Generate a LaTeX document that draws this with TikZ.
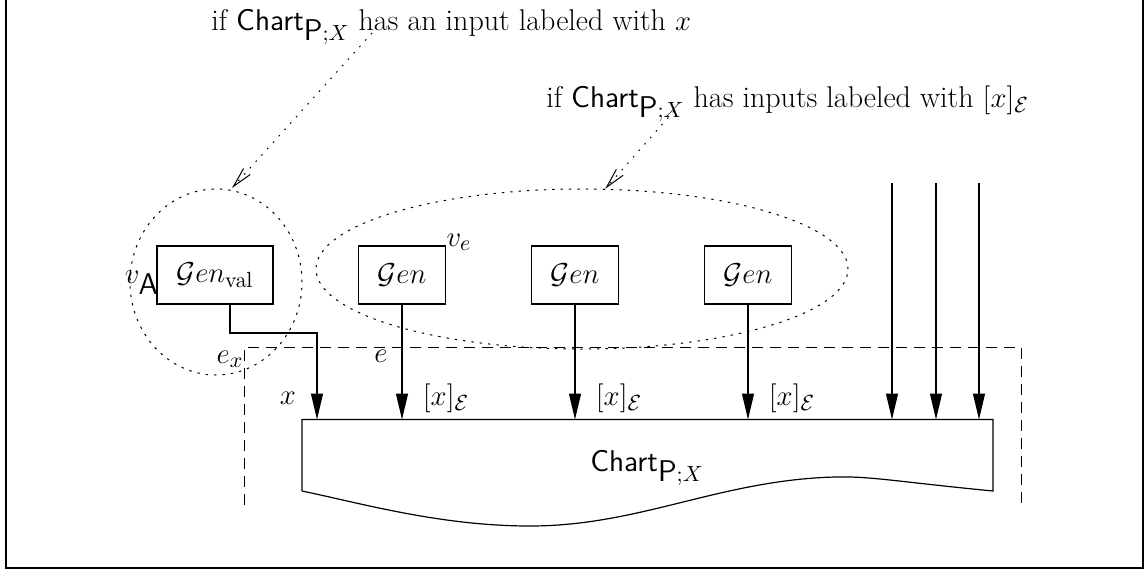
\documentclass[tikz,border=0pt]{standalone}
\usetikzlibrary{arrows.meta,shapes.geometric}
\begin{document}
\begin{tikzpicture}[x=0.5pt,y=-0.5pt,
  every node/.style={font=\fontsize{15}{18}\selectfont},
  genbox/.style={draw,line width=0.6pt,minimum width=43.5pt,minimum height=29pt,inner sep=0pt},
  dotellipse/.style={ellipse,draw,line width=0.5pt,dash pattern=on 1.2pt off 3pt,inner sep=0pt},
  arr/.style={line width=0.6pt,-{Triangle[length=13pt,width=6pt]}},
  hint/.style={line width=0.5pt,dash pattern=on 0.8pt off 3.5pt,-{Straight Barb[length=10pt,width=4.5pt]}},
  bound/.style={line width=0.5pt,dash pattern=on 5.5pt off 3.5pt},
  lbl/.style={inner sep=0pt}]
\useasboundingbox (0,0) rectangle (1147,574);
\draw[line width=1pt] (6,-2) rectangle (1143,568);

% top notes
\node[lbl,anchor=base west] (note1) at (211,30) {if $\textsf{Chart}_{\textsf{P};X}$ has an input labeled with $x$};
\node[lbl,anchor=base west] (note2) at (546,107) {if $\textsf{Chart}_{\textsf{P};X}$ has inputs labeled with $[x]_{\mathcal{E}}$};

% groups
\node[dotellipse,minimum width=86pt,minimum height=93pt] (grpA) at (216,282) {};
\node[dotellipse,minimum width=266pt,minimum height=80pt] (grpE) at (582,269) {};

% generator boxes
\node[genbox,minimum width=58pt] (gv) at (215,275) {$\mathcal{G}en_{\mathrm{val}}$};
\node[genbox] (g1) at (402,275) {$\mathcal{G}en$};
\node[genbox] (g2) at (575,275) {$\mathcal{G}en$};
\node[genbox] (g3) at (748,275) {$\mathcal{G}en$};

% hint arrows
\coordinate (h1s) at (372,33);
\coordinate (h1t) at (232,188);
\coordinate (h2s) at (674,111);
\coordinate (h2t) at (605,189);
\draw[hint] (h1s) -- (h1t);
\draw[hint] (h2s) -- (h2t);

% chart shape
\coordinate (cNW) at (302,419.5);
\coordinate (cNE) at (993,419.5);
\draw[line width=0.6pt] (302,491) -- (cNW) -- (cNE) -- (993,491)
  .. controls (900,482) and (870,476) .. (835,477)
  .. controls (720,480) and (640,526) .. (530,526)
  .. controls (440,526) and (360,503) .. (302,491);
\node[lbl] (chart) at (647,468) {$\textsf{Chart}_{\textsf{P};X}$};

% dashed boundary
\draw[bound] (244,505) -- (244,347) -- (1021.5,347) -- (1021.5,505);

% connectors
\coordinate (bend) at (317,333);
\draw[arr] ([xshift=7.5pt]gv.south) |- (bend) -- (bend |- cNW);
\draw[arr] (g1.south) -- (g1.south |- cNW);
\draw[arr] (g2.south) -- (g2.south |- cNW);
\draw[arr] (g3.south) -- (g3.south |- cNW);
\coordinate (r1) at (892,183);
\coordinate (r2) at (936,183);
\coordinate (r3) at (979,183);
\draw[arr] (r1) -- (r1 |- cNW);
\draw[arr] (r2) -- (r2 |- cNW);
\draw[arr] (r3) -- (r3 |- cNW);

% labels
\node[lbl] (lx) at (288,398) {$x$};
\node[lbl] (le1) at (446,398) {$[x]_{\mathcal{E}}$};
\node[lbl] (le2) at (619,398) {$[x]_{\mathcal{E}}$};
\node[lbl] (le3) at (792,398) {$[x]_{\mathcal{E}}$};
\node[lbl] (le) at (381,356) {$e$};
\node[lbl] (lex) at (230,359) {$e_x$};
\node[lbl] (lvA) at (142,283) {$v_{\textsf{A}}$};
\node[lbl] (lve) at (459,242) {$v_e$};
\end{tikzpicture}
\end{document}
